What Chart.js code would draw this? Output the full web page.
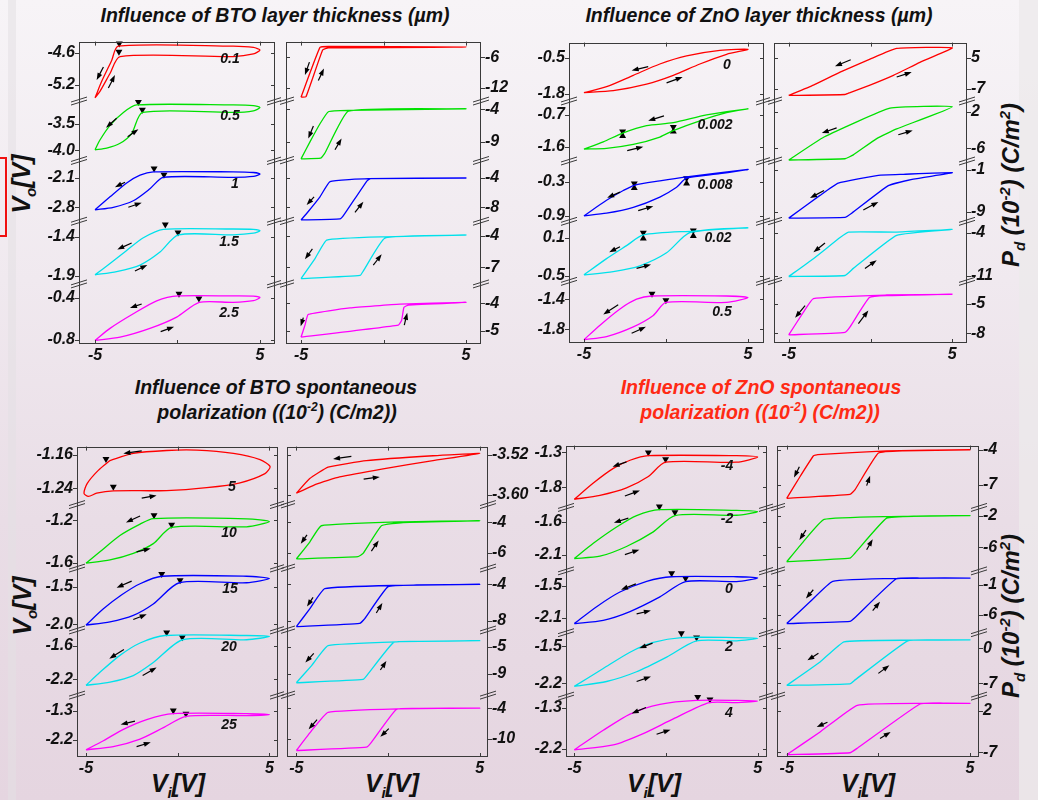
<!DOCTYPE html>
<html>
<head>
<meta charset="utf-8">
<script src="https://cdn.jsdelivr.net/npm/chart.js@4.4.1/dist/chart.umd.min.js"></script>
<style>
  html, body { margin: 0; padding: 0; }
  #stage {
    position: relative; width: 1038px; height: 800px; overflow: hidden;
    background: linear-gradient(to bottom, #f7f4f7 0%, #f0e9ef 35%, #e9dde6 65%, #e5d5e0 100%);
    font-family: 'Liberation Sans', Arial, sans-serif;
  }
  #stage canvas { position: absolute; }
  .txt { position: absolute; transform: translate(-50%, -50%); white-space: nowrap;
         font-weight: bold; font-style: italic; color: #111; }
  .title { font-size: 19.5px; }
  .title sup { font-size: 12px; }
  .red { color: #ff2a14; }
  .lab { font-size: 14px; }
  .axt { font-size: 25px; }
  .axt sub { font-size: 15px; }
  .rot { transform: translate(-50%, -50%) rotate(-90deg); }
  .pd { font-size: 24px; }
  .pd sub, .pd sup { font-size: 15px; }
  .strip { position: absolute; top: 0; height: 800px; }
</style>
</head>
<body>
<div id="stage">
  <div class="strip" style="left:8px;width:8px;background:rgba(228,224,227,0.55)"></div>
  <div class="strip" style="left:1019px;width:19px;background:rgba(236,233,235,0.75)"></div>
  <div style="position:absolute;left:-10px;top:157px;width:13px;height:76px;border:2px solid #f01010"></div>

  <div class="txt title" style="left:275px;top:15px">Influence of BTO layer thickness (µm)</div>
  <div class="txt title" style="left:759px;top:15px">Influence of ZnO layer thickness (µm)</div>
  <div class="txt title" style="left:276px;top:387px">Influence of BTO spontaneous</div>
  <div class="txt title" style="left:277px;top:412px">polarization ((10<sup>-2</sup>) (C/m2))</div>
  <div class="txt title red" style="left:761px;top:387px">Influence of ZnO spontaneous</div>
  <div class="txt title red" style="left:760px;top:412px">polarization ((10<sup>-2</sup>) (C/m2))</div>

  <div class="txt axt rot" style="left:23px;top:184px">V<sub>o</sub>[V]</div>
  <div class="txt axt rot" style="left:24px;top:606px">V<sub>o</sub>[V]</div>
  <div class="txt pd rot" style="left:1012px;top:185px">P<sub>d</sub> (10<sup>-2</sup>) (C/m<sup>2</sup>)</div>
  <div class="txt pd rot" style="left:1012px;top:616px">P<sub>d</sub> (10<sup>-2</sup>) (C/m<sup>2</sup>)</div>
  <div class="txt axt" style="left:178px;top:785px">V<sub>i</sub>[V]</div>
  <div class="txt axt" style="left:392px;top:785px">V<sub>i</sub>[V]</div>
  <div class="txt axt" style="left:654px;top:785px">V<sub>i</sub>[V]</div>
  <div class="txt axt" style="left:868px;top:785px">V<sub>i</sub>[V]</div>
</div>
<script>
// ---- data -----------------------------------------------------------
const stripeColors = ['rgb(255,0,0)', 'rgb(0,225,0)', 'rgb(0,0,255)', 'rgb(0,225,235)', 'rgb(255,0,255)'];
const xTicks = [-5, 0, 5];

// Influence of BTO layer thickness (um)
const btoThickLabels = ['0.1', '0.5', '1', '1.5', '2.5'];
const btoThickVoTicks = [['-4.6', '-5.2'], ['-3.5', '-4.0'], ['-2.1', '-2.8'], ['-1.4', '-1.9'], ['-0.4', '-0.8']];
const btoThickVoRange = [[-5.515, -4.383], [-4.189, -3.073], [-3.134, -1.68], [-2.004, -1.2], [-0.84, -0.271]];
const btoThickVo = [
  [[-5,-5.454],[-4.70,-5.330],[-4.09,-4.990],[-3.48,-4.668],[3.38,-4.668],[4.60,-4.619],[5,-4.544],[4.60,-4.495],[3.38,-4.470],[-3.59,-4.470],[-3.99,-4.742],[-4.60,-5.144],[-4.93,-5.40],[-5,-5.454]],
  [[-5,-3.988],[-4.29,-3.957],[-3.48,-3.866],[-2.78,-3.683],[-2.11,-3.287],[3.38,-3.287],[4.60,-3.256],[5,-3.195],[4.60,-3.159],[3.38,-3.146],[-2.47,-3.146],[-3.28,-3.287],[-4.09,-3.530],[-4.70,-3.805],[-5,-3.988]],
  [[-5,-2.862],[-3.89,-2.800],[-2.68,-2.644],[-1.67,-2.357],[-0.86,-2.084],[3.38,-2.084],[4.60,-2.061],[5,-2.007],[4.60,-1.968],[3.38,-1.952],[-1.46,-1.952],[-2.27,-2.030],[-3.08,-2.217],[-4.09,-2.551],[-5,-2.862]],
  [[-5,-1.8875],[-3.69,-1.846],[-2.27,-1.7625],[-1.06,-1.596],[0.05,-1.375],[3.38,-1.375],[4.60,-1.354],[5,-1.321],[4.60,-1.304],[3.38,-1.300],[-0.86,-1.304],[-2.07,-1.4125],[-3.08,-1.575],[-4.09,-1.742],[-5,-1.8875]],
  [[-5,-0.806],[-3.48,-0.775],[-1.67,-0.692],[-0.05,-0.585],[1.32,-0.446],[3.38,-0.446],[4.6,-0.43],[5,-0.4],[4.6,-0.387],[3.38,-0.385],[0.05,-0.385],[-1.26,-0.431],[-2.68,-0.554],[-4.09,-0.692],[-5,-0.806]]
];
const btoThickVoTurn = [
  [[-3.53,-4.421],[-3.55,-4.575]], [[-2.37,-3.091],[-2.13,-3.238]], [[-1.42,-1.874],[-0.82,-2.022]],
  [[-0.74,-1.242],[0.03,-1.346]], [[0.09,-0.363],[1.30,-0.409]]
];
const btoThickVoArrows = [
  [[-4.49,-4.866,-4.90,-5.113],[-4.19,-5.268,-3.79,-5.021]],
  [[-3.69,-3.396,-4.33,-3.573],[-3.02,-3.744,-2.37,-3.604]],
  [[-3.18,-2.202,-3.79,-2.318],[-2.98,-2.800,-2.17,-2.691]],
  [[-2.78,-1.479,-3.65,-1.5625],[-2.58,-1.8375,-1.83,-1.7625]],
  [[-2.17,-0.4615,-2.88,-0.498],[-1.02,-0.723,-0.21,-0.677]]
];
const btoThickPdTicks = [['-6', '-12'], ['-4', '-9'], ['-4', '-8'], ['-4', '-7'], ['-4', '-5']];
const btoThickPdRange = [[-14.526, -2.968], [-11.9, -2.75], [-9.911, -1.6], [-8.577, -2.608], [-5.488, -3.286]];
const btoThickPd = [
  [[-5,-13.77],[-4.70,-13.71],[-3.69,-4.61],[-3.34,-4.17],[5,-4.04],[-3.34,-3.92],[-3.85,-4.10],[-5,-13.77]],
  [[-5,-11.65],[-3.81,-11.55],[-3.55,-10.75],[-2.13,-4.3],[5,-3.95],[-2.13,-4.2],[-3.34,-4.4],[-3.85,-6.25],[-4.45,-9.0],[-5,-11.65]],
  [[-5,-9.733],[-2.64,-9.6],[-2.39,-9.022],[-1.02,-4.444],[-0.78,-4.089],[5,-4.0],[-0.92,-4.089],[-3.24,-4.489],[-3.85,-6.578],[-4.56,-8.578],[-5,-9.733]],
  [[-5,-8.082],[-1.42,-7.773],[-1.22,-7.340],[0.09,-4.216],[5,-3.938],[0.09,-4.093],[-3.44,-4.402],[-4.15,-6.165],[-5,-8.082]],
  [[-5,-5.238],[0.90,-4.798],[1.10,-4.619],[1.24,-4.143],[1.51,-4.060],[5,-3.964],[1.0,-4.024],[-2.03,-4.167],[-4.56,-4.405],[-4.76,-4.798],[-5,-5.238]]
];
const btoThickPdArrows = [
  [[-4.49,-6.95,-4.76,-9.47],[-3.95,-10.55,-3.61,-8.21]],
  [[-4.25,-6.6,-4.56,-8.5],[-2.94,-10.25,-2.54,-8.5]],
  [[-4.21,-6.58,-4.66,-7.69],[-1.73,-8.71,-1.22,-7.24]],
  [[-4.31,-5.237,-4.76,-6.227],[-0.62,-6.784,-0.11,-5.763]],
  [[-4.86,-4.524,-5.02,-4.833],[1.26,-4.798,1.44,-4.345]]
];

// Influence of ZnO layer thickness (um)
const znoThickLabels = ['0', '0.002', '0.008', '0.02', '0.5'];
const znoThickVoTicks = [['-0.5', '-1.8'], ['-0.7', '-1.6'], ['-0.3', '-0.9'], ['0.1', '-0.5'], ['-1.4', '-1.8']];
const znoThickVoRange = [[-2.055, 0.034], [-2.004, -0.305], [-0.997, 0.066], [-0.592, 0.356], [-1.981, -1.163]];
const znoThickVo = [
  [[-5,-1.754],[-3.62,-1.545],[-1.99,-1.138],[-0.37,-0.732],[1.26,-0.442],[3.29,-0.245],[5,-0.21],[3.70,-0.384],[2.07,-0.732],[0.45,-1.138],[-1.18,-1.452],[-3.21,-1.684],[-5,-1.754]],
  [[-5,-1.664],[-3.82,-1.462],[-2.64,-1.214],[-1.18,-1.003],[0.45,-0.92],[2.48,-0.70],[5,-0.526],[3.70,-0.636],[2.07,-0.865],[0.45,-1.141],[-0.37,-1.325],[-1.99,-1.536],[-3.62,-1.646],[-5,-1.664]],
  [[-5,-0.9],[-3.62,-0.626],[-2.60,-0.454],[-1.89,-0.357],[-0.37,-0.283],[1.26,-0.214],[5,-0.083],[3.29,-0.157],[1.26,-0.237],[0.65,-0.397],[-0.37,-0.569],[-1.99,-0.751],[-3.62,-0.854],[-5,-0.9]],
  [[-5,-0.490],[-3.62,-0.233],[-2.40,-0.028],[-1.38,0.141],[1.67,0.203],[5,0.254],[1.46,0.177],[0.04,-0.141],[-1.59,-0.346],[-3.21,-0.438],[-5,-0.490]],
  [[-5,-1.938],[-4.02,-1.744],[-2.80,-1.529],[-1.79,-1.4],[-0.87,-1.357],[3.70,-1.357],[5,-1.378],[3.70,-1.443],[0.0,-1.443],[-0.77,-1.615],[-1.99,-1.766],[-3.62,-1.895],[-5,-1.938]]
];
const znoThickVoTurn = [
  [], [[-2.64,-1.168],[0.45,-1.040]], [[-1.93,-0.329],[1.26,-0.237]],
  [[-1.38,0.177],[1.67,0.213]], [[-0.85,-1.327],[0.0,-1.413]]
];
const znoThickVoTurnUp = [
  [], [[-2.64,-1.297],[0.45,-1.168]], [[-1.93,-0.409],[1.26,-0.329]],
  [[-1.38,0.085],[1.67,0.126]], []
];
const znoThickVoArrows = [
  [[-1.08,-0.825,-2.09,-0.964],[0.04,-1.405,1.02,-1.196]],
  [[-0.12,-0.728,-1.08,-0.865],[-2.36,-1.710,-1.38,-1.600]],
  [[-2.80,-0.483,-3.58,-0.580],[-1.69,-0.809,-0.77,-0.729]],
  [[-2.80,-0.044,-3.46,-0.131],[-1.79,-0.387,-0.91,-0.326]],
  [[-2.91,-1.473,-3.82,-1.602],[-2.09,-1.852,-1.22,-1.766]]
];
const znoThickPdTicks = [['5', '-7'], ['2', '-6'], ['-1', '-9'], ['-4', '-11'], ['-5', '-8']];
const znoThickPdRange = [[-11.58, 10.69], [-8.79, 4.43], [-10.875, 0.75], [-11.895, -2.158], [-9.0, -2.667]];
const znoThickPd = [
  [[-5,-9.47],[-3.49,-5.52],[-1.86,-0.57],[-0.03,4.38],[1.60,8.46],[5,8.71],[3.02,3.14],[1.40,-1.80],[-0.03,-5.52],[-1.25,-8.36],[-1.56,-9.10],[-5,-9.47]],
  [[-5,-8.57],[-1.56,-8.29],[-1.05,-7.43],[0.38,-3.86],[1.60,-1.71],[5,3.14],[1.19,2.86],[-2.84,-3.5],[-5,-8.57]],
  [[-5,-10.25],[-1.56,-10.125],[-1.15,-9.31],[1.09,-4.0],[2.62,-2.75],[5,-1.5],[2.01,-1.81],[0.48,-2.0],[-1.97,-3.5],[-3.09,-5.875],[-5,-10.25]],
  [[-5,-11.105],[-1.56,-10.947],[-1.05,-9.789],[1.60,-4.421],[5,-3.474],[1.60,-3.895],[-1.35,-3.895],[-1.86,-4.789],[-3.49,-8.211],[-5,-11.105]],
  [[-5,-8.167],[-1.56,-7.9],[-1.25,-7.333],[-0.07,-4.333],[0.99,-4.133],[5,-4.0],[0.99,-4.067],[-3.49,-4.433],[-4.10,-5.833],[-5,-8.167]]
];
const znoThickPdArrows = [
  [[-1.21,4.13,-2.17,1.66],[1.60,-2.42,2.52,-0.57]],
  [[-2.07,-1.5,-2.98,-2.64],[1.70,-3.0,2.58,-2.07]],
  [[-2.84,-4.94,-3.70,-6.375],[-0.44,-8.69,0.48,-7.125]],
  [[-2.78,-5.684,-3.49,-7.158],[-0.34,-9.789,0.38,-8.474]],
  [[-4.0,-5.167,-4.61,-6.4],[-0.74,-7.0,-0.13,-5.667]]
];

// Influence of BTO spontaneous polarization (10^-2 C/m2)
const btoPolLabels = ['5', '10', '15', '20', '25'];
const btoPolVoTicks = [['-1.16', '-1.24'], ['-1.2', '-1.6'], ['-1.5', '-2.0'], ['-1.6', '-2.2'], ['-1.3', '-2.2']];
const btoPolVoRange = [[-1.2788, -1.1406], [-1.6523, -1.0523], [-2.0783, -1.2522], [-2.4769, -1.3231], [-2.72, -0.82]];
const btoPolVo = [
  [[-3.69,-1.1740],[-2.42,-1.1569],[-0.6,-1.1499],[1.04,-1.1491],[3.04,-1.1569],[4.49,-1.1717],[5.04,-1.1880],[4.76,-1.2050],[3.4,-1.2268],[1.58,-1.2384],[-0.6,-1.2454],[-3.51,-1.2462],[-4.42,-1.2517],[-4.87,-1.2594],[-5.11,-1.2517],[-4.93,-1.2283],[-4.33,-1.1973],[-3.69,-1.1740]],
  [[-5,-1.6062],[-4.24,-1.4985],[-3.15,-1.3446],[-2.05,-1.2369],[-1.33,-1.1846],[3.76,-1.187],[5,-1.2123],[3.76,-1.262],[-0.33,-1.2677],[-1.33,-1.4215],[-2.42,-1.5138],[-3.69,-1.5754],[-5,-1.6062]],
  [[-5,-2.0130],[-4.05,-1.7957],[-3.05,-1.6087],[-2.05,-1.4609],[-0.87,-1.3609],[3.76,-1.3609],[5,-1.3913],[3.76,-1.4478],[0.09,-1.4478],[-1.33,-1.7304],[-2.42,-1.8826],[-3.69,-1.9696],[-5,-2.0130]],
  [[-5,-2.3038],[-4.24,-2.0731],[-3.15,-1.7731],[-2.05,-1.5538],[-0.69,-1.4212],[3.76,-1.4212],[5,-1.4385],[3.76,-1.4962],[0.27,-1.4962],[-1.33,-1.9],[-2.42,-2.1308],[-3.69,-2.2462],[-5,-2.3038]],
  [[-5,-2.5],[-4.05,-2.22],[-2.96,-1.87],[-1.69,-1.57],[-0.24,-1.39],[3.76,-1.39],[5,-1.42],[3.76,-1.45],[0.45,-1.47],[-0.78,-1.82],[-2.05,-2.17],[-3.51,-2.4],[-5,-2.5]]
];
const btoPolVoTurn = [
  [[-3.91,-1.1701],[-3.51,-1.2361]], [[-1.29,-1.1538],[-0.33,-1.2431]], [[-0.87,-1.3304],[0.13,-1.4130]],
  [[-0.6,-1.3692],[0.25,-1.45]], [[-0.24,-1.29],[0.45,-1.39]]
];
const btoPolVoArrows = [
  [[-1.96,-1.1507,-2.96,-1.1569],[-1.96,-1.2633,-1.15,-1.2571]],
  [[-2.05,-1.1600,-2.82,-1.2215],[-2.24,-1.4985,-1.47,-1.4677]],
  [[-2.51,-1.4261,-3.33,-1.5130],[-2.42,-1.9391,-1.69,-1.8696]],
  [[-2.93,-1.6692,-3.73,-1.8308],[-1.91,-2.1308,-1.15,-1.9865]],
  [[-2.33,-1.62,-3.11,-1.72],[-2.24,-2.4,-1.47,-2.27]]
];
const btoPolPdTicks = [['-3.52', '-3.60'], ['-4', '-6'], ['-4', '-8'], ['-5', '-9'], ['-4', '-10']];
const btoPolPdRange = [[-3.6195, -3.5037], [-7.011, -2.817], [-9.0, -2.214], [-12.133, -2.494], [-13.474, -1.474]];
const btoPolPd = [
  [[-5,-3.5968],[-4.27,-3.5675],[-3.27,-3.5447],[-1.18,-3.5317],[2.45,-3.5220],[5,-3.5174],[2.45,-3.5317],[-0.27,-3.5480],[-2.64,-3.5642],[-3.91,-3.5785],[-5,-3.5968]],
  [[-5,-6.409],[-1.64,-6.258],[-1.36,-6.043],[-0.36,-4.215],[0.82,-4.0],[5,-3.892],[0.82,-3.957],[-3.64,-4.215],[-4.27,-5.290],[-5,-6.409]],
  [[-5,-8.643],[-1.55,-8.286],[-1.27,-7.75],[0,-4.25],[1.55,-4.071],[5,-4.0],[0.64,-4.107],[-3.45,-4.464],[-4.27,-6.679],[-5,-8.643]],
  [[-5,-10.301],[-1.36,-9.819],[-1.09,-9.0],[0.31,-4.325],[1.73,-4.181],[5,-4.084],[0.64,-4.229],[-3.27,-4.807],[-4.18,-7.795],[-5,-10.301]],
  [[-5,-12.211],[-1.18,-11.579],[-0.91,-10.632],[0.45,-4.253],[1.73,-4.063],[5,-4.0],[0.64,-4.126],[-3.27,-4.821],[-4.18,-8.421],[-5,-12.211]]
];
const btoPolPdArrows = [
  [[-2.0,-3.5233,-3.0,-3.5285],[-1.33,-3.5688,-0.45,-3.5642]],
  [[-4.42,-4.817,-4.76,-5.398],[-0.91,-5.892,-0.51,-5.183]],
  [[-4.09,-5.429,-4.42,-6.429],[-0.64,-7.143,-0.31,-6.036]],
  [[-4.05,-5.964,-4.51,-7.313],[-0.42,-8.422,-0.09,-7.072]],
  [[-3.87,-6.211,-4.33,-8.105],[0.04,-7.979,-0.42,-9.558]]
];

// Influence of ZnO spontaneous polarization (10^-2 C/m2)
const znoPolLabels = ['-4', '-2', '0', '2', '4'];
const znoPolVoTicks = [['-1.3', '-1.8'], ['-1.6', '-2.1'], ['-1.5', '-2.1'], ['-1.5', '-2.2'], ['-1.3', '-2.2']];
const znoPolVoRange = [[-2.087, -1.2074], [-2.35, -1.375], [-2.37, -1.23], [-2.4478, -1.2398], [-2.377, -1.052]];
const znoPolVo = [
  [[-5,-1.9713],[-3.96,-1.7398],[-2.87,-1.5315],[-1.96,-1.4157],[-0.96,-1.3509],[3.85,-1.3509],[5,-1.3694],[3.85,-1.4435],[-0.02,-1.4435],[-0.96,-1.6472],[-2.15,-1.8093],[-3.6,-1.9157],[-5,-1.9713]],
  [[-5,-2.16],[-3.96,-1.925],[-2.69,-1.675],[-1.6,-1.5],[-0.33,-1.41],[3.85,-1.42],[5,-1.44],[3.85,-1.495],[0.49,-1.5],[-0.69,-1.75],[-2.15,-1.975],[-3.6,-2.125],[-5,-2.16]],
  [[-5,-2.202],[-3.78,-1.89],[-2.51,-1.62],[-1.05,-1.422],[0.31,-1.338],[3.85,-1.338],[5,-1.362],[3.85,-1.428],[1.07,-1.428],[-0.33,-1.71],[-1.96,-1.98],[-3.42,-2.142],[-5,-2.202]],
  [[-5,-2.2619],[-3.42,-1.9212],[-1.96,-1.6115],[-0.69,-1.4257],[0.85,-1.3327],[3.85,-1.3327],[5,-1.3451],[3.85,-1.3947],[1.67,-1.3947],[0.04,-1.7044],[-1.6,-1.9832],[-3.24,-2.169],[-5,-2.2619]],
  [[-5,-2.2213],[-3.42,-1.7961],[-1.96,-1.4417],[-0.33,-1.2291],[1.67,-1.1441],[3.85,-1.1441],[5,-1.1583],[3.85,-1.1937],[2.36,-1.1937],[0.4,-1.548],[-1.24,-1.8669],[-2.87,-2.115],[-5,-2.2213]]
];
const znoPolVoTurn = [
  [[-0.96,-1.3046],[-0.02,-1.4019]], [[-0.36,-1.36],[0.49,-1.45]], [[0.31,-1.272],[1.07,-1.368]],
  [[0.84,-1.2522],[1.67,-1.3327]], [[1.73,-1.07],[2.4,-1.1228]]
];
const znoPolVoArrows = [
  [[-2.15,-1.4389,-2.91,-1.5083],[-2.24,-1.925,-1.42,-1.8463]],
  [[-2.05,-1.54,-2.84,-1.61],[-2.24,-2.1,-1.45,-2.025]],
  [[-1.64,-1.47,-2.45,-1.578],[-1.6,-2.022,-0.82,-1.962]],
  [[-0.73,-1.438,-1.45,-1.537],[-1.6,-2.169,-0.82,-2.076]],
  [[-1.09,-1.3,-1.87,-1.4276],[-0.51,-1.8811,0.25,-1.7819]]
];
const znoPolPdTicks = [['-4', '-7'], ['-2', '-6'], ['-1', '-6'], ['0', '-7'], ['2', '-7']];
const znoPolPdRange = [[-8.9626, -3.6355], [-9.010, -0.969], [-8.957, 1.258], [-9.617, 3.140], [-7.984, 5.164]];
const znoPolPd = [
  [[-5,-8.178],[-1.55,-7.841],[-1.27,-7.421],[0,-4.280],[1.36,-4.084],[5,-4.0],[0.45,-4.084],[-3.31,-4.421],[-3.55,-4.533],[-4.27,-6.299],[-5,-8.178]],
  [[-5,-7.856],[-1.55,-7.402],[-1.27,-6.742],[0.45,-2.330],[2.09,-2.082],[5,-2.0],[0.64,-2.124],[-2.96,-2.495],[-4.09,-5.299],[-5,-7.856]],
  [[-5,-7.452],[-1.55,-7.075],[-1.27,-6.430],[0.96,-0.086],[2.27,0.075],[5,0.075],[1.36,0.022],[-2.49,-0.462],[-3.73,-3.849],[-5,-7.452]],
  [[-5,-7.458],[-1.55,-7.131],[-1.27,-6.346],[1.6,1.505],[3.18,1.701],[5,1.701],[1.73,1.636],[-1.87,1.308],[-3.18,-2.748],[-5,-7.458]],
  [[-5,-7.492],[-1.55,-7.070],[-1.15,-6.086],[2.27,3.477],[3.55,3.617],[5,3.617],[2.45,3.617],[-1.15,3.195],[-3.18,-2.570],[-5,-7.492]]
];
const znoPolPdArrows = [
  [[-4.31,-5.458,-4.6,-6.383],[-0.64,-7.084,-0.45,-6.243]],
  [[-3.95,-3.856,-4.31,-5.093],[-0.64,-6.330,-0.31,-5.010]],
  [[-3.55,-1.860,-3.95,-3.312],[-0.31,-5.301,0.09,-3.849]],
  [[-3.27,-0.981,-3.87,-2.421],[0,-5.037,0.6,-3.402]],
  [[-2.78,-0.461,-3.36,-1.516],[0.09,-3.977,0.67,-2.570]]
];

// ---- layout ---------------------------------------------------------
const AXW = 52, PAD = 6, XH = 24;
const stage = document.getElementById('stage');
const tickFont = { family: "'Liberation Sans', Arial, sans-serif", size: 16, weight: 'bold', style: 'italic' };

function drawArrow(ctx, x1, y1, x2, y2) {
  const a = Math.atan2(y2 - y1, x2 - x1);
  ctx.beginPath();
  ctx.moveTo(x1, y1);
  ctx.lineTo(x2 - 4 * Math.cos(a), y2 - 4 * Math.sin(a));
  ctx.stroke();
  ctx.beginPath();
  ctx.moveTo(x2, y2);
  ctx.lineTo(x2 - 7 * Math.cos(a) + 2.5 * Math.sin(a), y2 - 7 * Math.sin(a) - 2.5 * Math.cos(a));
  ctx.lineTo(x2 - 7 * Math.cos(a) - 2.5 * Math.sin(a), y2 - 7 * Math.sin(a) + 2.5 * Math.cos(a));
  ctx.closePath();
  ctx.fill();
}

function makePlot(p) {
  const f = p.frame, onLeft = p.side === 'left';
  const cv = document.createElement('canvas');
  cv.width = f.w + AXW + PAD;
  cv.height = f.h + PAD + XH;
  cv.style.left = (onLeft ? f.x - AXW : f.x - PAD) + 'px';
  cv.style.top = (f.y - PAD) + 'px';
  stage.appendChild(cv);

  const scales = {
    x: {
      type: 'linear', axis: 'x', position: 'bottom', min: p.xRange[0], max: p.xRange[1],
      afterBuildTicks: s => { s.ticks = xTicks.map(v => ({ value: v })); },
      afterFit: s => { s.height = XH; },
      ticks: { font: tickFont, color: '#111', padding: 2, autoSkip: false, maxRotation: 0,
               callback: v => (v === 0 ? '' : String(v)) },
      grid: { display: false, drawTicks: false },
      border: { display: false }
    }
  };
  const order = onLeft ? [4, 3, 2, 1, 0] : [0, 1, 2, 3, 4];
  order.forEach(i => {
    const labels = p.ticks[i];
    scales['y' + i] = {
      type: 'linear', axis: 'y', position: p.side, stack: 'strips', stackWeight: p.weights[i],
      min: p.ranges[i][0], max: p.ranges[i][1],
      afterBuildTicks: s => { s.ticks = labels.map(t => ({ value: parseFloat(t) })); },
      afterFit: s => { s.width = AXW; },
      ticks: { font: tickFont, color: '#111', padding: 4, autoSkip: false,
               callback: (v, k) => labels[k] },
      grid: { display: false, drawTicks: false },
      border: { display: false }
    };
  });

  const datasets = [];
  p.loops.forEach((pts, i) => {
    datasets.push({
      data: pts.map(q => ({ x: q[0], y: q[1] })), yAxisID: 'y' + i,
      showLine: true, borderColor: stripeColors[i], borderWidth: 1.3,
      pointRadius: 0, tension: p.tension, fill: false
    });
  });
  (p.turnDown || []).forEach((pts, i) => {
    if (!pts.length) return;
    datasets.push({
      data: pts.map(q => ({ x: q[0], y: q[1] })), yAxisID: 'y' + i, showLine: false,
      pointStyle: 'triangle', rotation: 180, pointRadius: 4,
      backgroundColor: '#000', borderColor: '#000', borderWidth: 0, clip: false
    });
  });
  (p.turnUp || []).forEach((pts, i) => {
    if (!pts.length) return;
    datasets.push({
      data: pts.map(q => ({ x: q[0], y: q[1] })), yAxisID: 'y' + i, showLine: false,
      pointStyle: 'triangle', rotation: 0, pointRadius: 4,
      backgroundColor: '#000', borderColor: '#000', borderWidth: 0, clip: false
    });
  });

  const framePlugin = {
    id: 'frame',
    afterDraw(chart) {
      const ctx = chart.ctx, a = chart.chartArea, xs = chart.scales.x;
      ctx.save();
      ctx.strokeStyle = '#3a3a3a';
      ctx.lineWidth = 1;
      ctx.strokeRect(Math.round(a.left) + 0.5, Math.round(a.top) + 0.5,
                     Math.round(a.right - a.left) - 1, Math.round(a.bottom - a.top) - 1);
      // tick marks
      ctx.beginPath();
      xTicks.forEach(v => {
        const px = Math.round(xs.getPixelForValue(v)) + 0.5;
        ctx.moveTo(px, a.bottom); ctx.lineTo(px, a.bottom - 4);
        ctx.moveTo(px, a.top); ctx.lineTo(px, a.top + 4);
      });
      for (let i = 0; i < 5; i++) {
        const ys = chart.scales['y' + i];
        p.ticks[i].forEach(t => {
          const py = Math.round(ys.getPixelForValue(parseFloat(t))) + 0.5;
          const out = onLeft ? a.left : a.right;
          const inn = onLeft ? a.right : a.left;
          const dir = onLeft ? -1 : 1;
          ctx.moveTo(out, py); ctx.lineTo(out + dir * 4, py);
          ctx.moveTo(inn, py); ctx.lineTo(inn + dir * 4, py);
        });
      }
      ctx.stroke();
      // axis break marks between strips
      for (let i = 1; i < 5; i++) {
        const by = chart.scales['y' + i].top;
        [a.left, a.right].forEach(bx => {
          ctx.beginPath();
          ctx.moveTo(bx - 8, by + 1); ctx.lineTo(bx + 8, by - 4);
          ctx.moveTo(bx - 8, by + 4); ctx.lineTo(bx + 8, by - 1);
          ctx.stroke();
        });
      }
      // direction arrows
      ctx.strokeStyle = '#000';
      ctx.fillStyle = '#000';
      ctx.lineWidth = 1.2;
      p.arrows.forEach((list, i) => {
        const ys = chart.scales['y' + i];
        list.forEach(r => drawArrow(ctx, xs.getPixelForValue(r[0]), ys.getPixelForValue(r[1]),
                                    xs.getPixelForValue(r[2]), ys.getPixelForValue(r[3])));
      });
      ctx.restore();
    }
  };

  new Chart(cv, {
    type: 'scatter',
    data: { datasets },
    options: {
      responsive: false, animation: false, devicePixelRatio: 1,
      layout: { padding: onLeft ? { top: PAD, right: PAD, left: 0, bottom: 0 } : { top: PAD, left: PAD, right: 0, bottom: 0 } },
      plugins: { legend: { display: false }, tooltip: { enabled: false } },
      scales
    },
    plugins: [framePlugin]
  });
}

function addLabels(list, spots) {
  list.forEach((t, i) => {
    const d = document.createElement('div');
    d.className = 'txt lab';
    d.style.left = spots[i][0] + 'px';
    d.style.top = spots[i][1] + 'px';
    d.textContent = t;
    stage.appendChild(d);
  });
}

const wA = [183, 183, 187, 193, 185], wB = [180, 185, 186, 185, 190];
const wC = [178, 195, 190, 200, 190], wD = [190, 195, 190, 195, 187];
const VO_T = 0.25, PD_T = 0.12;

makePlot({ frame: { x: 79, y: 34, w: 196, h: 310 }, side: 'left', xRange: [-5.97, 5.91], weights: wA, tension: VO_T,
  ticks: btoThickVoTicks, ranges: btoThickVoRange, loops: btoThickVo, turnDown: btoThickVoTurn, arrows: btoThickVoArrows });
makePlot({ frame: { x: 286, y: 34, w: 195, h: 310 }, side: 'right', xRange: [-5.91, 5.91], weights: wA, tension: PD_T,
  ticks: btoThickPdTicks, ranges: btoThickPdRange, loops: btoThickPd, arrows: btoThickPdArrows });
makePlot({ frame: { x: 569, y: 35, w: 195, h: 308 }, side: 'left', xRange: [-5.91, 5.98], weights: wB, tension: VO_T,
  ticks: znoThickVoTicks, ranges: znoThickVoRange, loops: znoThickVo, turnDown: znoThickVoTurn,
  turnUp: znoThickVoTurnUp, arrows: znoThickVoArrows });
makePlot({ frame: { x: 774, y: 35, w: 193, h: 308 }, side: 'right', xRange: [-5.9, 5.9], weights: wB, tension: PD_T,
  ticks: znoThickPdTicks, ranges: znoThickPdRange, loops: znoThickPd, arrows: znoThickPdArrows });
makePlot({ frame: { x: 77, y: 439, w: 201, h: 318 }, side: 'left', xRange: [-5.49, 5.47], weights: wC, tension: VO_T,
  ticks: btoPolVoTicks, ranges: btoPolVoRange, loops: btoPolVo, turnDown: btoPolVoTurn, arrows: btoPolVoArrows });
makePlot({ frame: { x: 287, y: 439, w: 201, h: 318 }, side: 'right', xRange: [-5.51, 5.45], weights: wC, tension: PD_T,
  ticks: btoPolPdTicks, ranges: btoPolPdRange, loops: btoPolPd, arrows: btoPolPdArrows });
makePlot({ frame: { x: 566, y: 438, w: 201, h: 319 }, side: 'left', xRange: [-5.45, 5.51], weights: wD, tension: VO_T,
  ticks: znoPolVoTicks, ranges: znoPolVoRange, loops: znoPolVo, turnDown: znoPolVoTurn, arrows: znoPolVoArrows });
makePlot({ frame: { x: 777, y: 438, w: 202, h: 319 }, side: 'right', xRange: [-5.53, 5.49], weights: wD, tension: PD_T,
  ticks: znoPolPdTicks, ranges: znoPolPdRange, loops: znoPolPd, arrows: znoPolPdArrows });

addLabels(btoThickLabels, [[230, 58], [230, 115], [235, 183], [229, 241], [229, 312]]);
addLabels(znoThickLabels, [[727, 64], [715, 124], [715, 184], [718, 237], [722, 311]]);
addLabels(btoPolLabels, [[232, 486], [229, 532], [230, 588], [229, 646], [229, 724]]);
addLabels(znoPolLabels, [[727, 465], [727, 518], [729, 588], [729, 646], [729, 712]]);
</script>
</body>
</html>
